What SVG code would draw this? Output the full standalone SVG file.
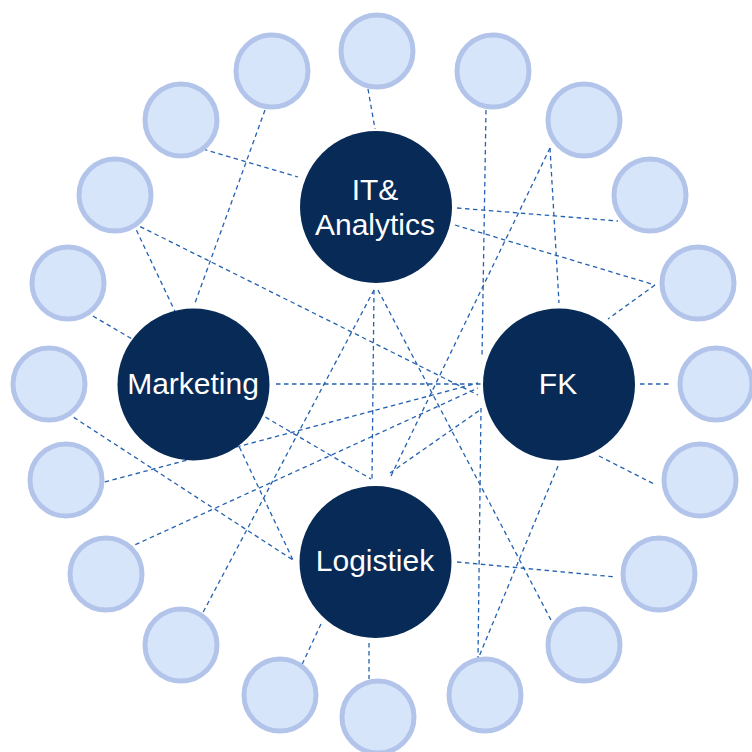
<svg xmlns="http://www.w3.org/2000/svg" width="752" height="752" viewBox="0 0 752 752">
<style>
.c{stroke:#2461b0;stroke-width:1.3;stroke-dasharray:4.5 3.5;fill:none}
.s{fill:#d7e5fb;stroke:#b3c4ea;stroke-width:5}
.b{fill:#072a56}
.t{fill:#ffffff;font-family:"Liberation Sans",Arial,sans-serif;font-size:30px;text-anchor:middle}
</style>
<rect width="752" height="752" fill="#ffffff"/>
<g id="connectors">
<line class="c" x1="368" y1="89" x2="375" y2="129"/>
<line class="c" x1="203" y1="149" x2="298" y2="177"/>
<line class="c" x1="265" y1="110" x2="195" y2="303"/>
<line class="c" x1="133" y1="223" x2="293" y2="560"/>
<line class="c" x1="133" y1="223" x2="478" y2="395"/>
<line class="c" x1="86" y1="312" x2="371" y2="479"/>
<line class="c" x1="67" y1="413" x2="293" y2="560"/>
<line class="c" x1="97" y1="484" x2="478" y2="383"/>
<line class="c" x1="128" y1="548" x2="478" y2="388"/>
<line class="c" x1="374" y1="290" x2="199" y2="620"/>
<line class="c" x1="374" y1="290" x2="372" y2="480"/>
<line class="c" x1="378" y1="290" x2="551" y2="620"/>
<line class="c" x1="276" y1="384" x2="482" y2="384"/>
<line class="c" x1="390" y1="473" x2="480" y2="410"/>
<line class="c" x1="550" y1="148" x2="390" y2="478"/>
<line class="c" x1="550" y1="148" x2="559" y2="303"/>
<line class="c" x1="486" y1="110" x2="482" y2="356"/>
<line class="c" x1="481" y1="408" x2="478" y2="659"/>
<line class="c" x1="457" y1="208" x2="618" y2="221"/>
<line class="c" x1="455" y1="225" x2="655" y2="285"/>
<line class="c" x1="655" y1="285" x2="608" y2="319"/>
<line class="c" x1="640" y1="384" x2="671" y2="384"/>
<line class="c" x1="599" y1="456" x2="654" y2="484"/>
<line class="c" x1="457" y1="562" x2="616" y2="577"/>
<line class="c" x1="558" y1="466" x2="478" y2="659"/>
<line class="c" x1="369" y1="643" x2="369" y2="679"/>
<line class="c" x1="321" y1="624" x2="299" y2="671"/>
</g>
<g id="s1"><circle class="s" cx="377" cy="51" r="36"/></g>
<g id="s2"><circle class="s" cx="493" cy="71" r="36"/></g>
<g id="s3"><circle class="s" cx="584" cy="120" r="36"/></g>
<g id="s4"><circle class="s" cx="650" cy="195" r="36"/></g>
<g id="s5"><circle class="s" cx="698" cy="283" r="36"/></g>
<g id="s6"><circle class="s" cx="716" cy="384" r="36"/></g>
<g id="s7"><circle class="s" cx="700" cy="480" r="36"/></g>
<g id="s8"><circle class="s" cx="659" cy="574" r="36"/></g>
<g id="s9"><circle class="s" cx="584" cy="645" r="36"/></g>
<g id="s10"><circle class="s" cx="485" cy="695" r="36"/></g>
<g id="s11"><circle class="s" cx="378" cy="717" r="36"/></g>
<g id="s12"><circle class="s" cx="280" cy="695" r="36"/></g>
<g id="s13"><circle class="s" cx="181" cy="645" r="36"/></g>
<g id="s14"><circle class="s" cx="106" cy="574" r="36"/></g>
<g id="s15"><circle class="s" cx="66" cy="480" r="36"/></g>
<g id="s16"><circle class="s" cx="49" cy="384" r="36"/></g>
<g id="s17"><circle class="s" cx="68" cy="283" r="36"/></g>
<g id="s18"><circle class="s" cx="115" cy="195" r="36"/></g>
<g id="s19"><circle class="s" cx="181" cy="120" r="36"/></g>
<g id="s20"><circle class="s" cx="272" cy="71" r="36"/></g>
<g id="it"><circle class="b" cx="376" cy="207" r="76"/><text class="t" x="375" y="200">IT&amp;</text><text class="t" x="375" y="235">Analytics</text></g>
<g id="marketing"><circle class="b" cx="193.5" cy="384.5" r="76"/><text class="t" x="193" y="394">Marketing</text></g>
<g id="fk"><circle class="b" cx="559" cy="384.5" r="76"/><text class="t" x="558" y="394">FK</text></g>
<g id="logistiek"><circle class="b" cx="375.5" cy="562" r="76"/><text class="t" x="375" y="571">Logistiek</text></g>
</svg>
